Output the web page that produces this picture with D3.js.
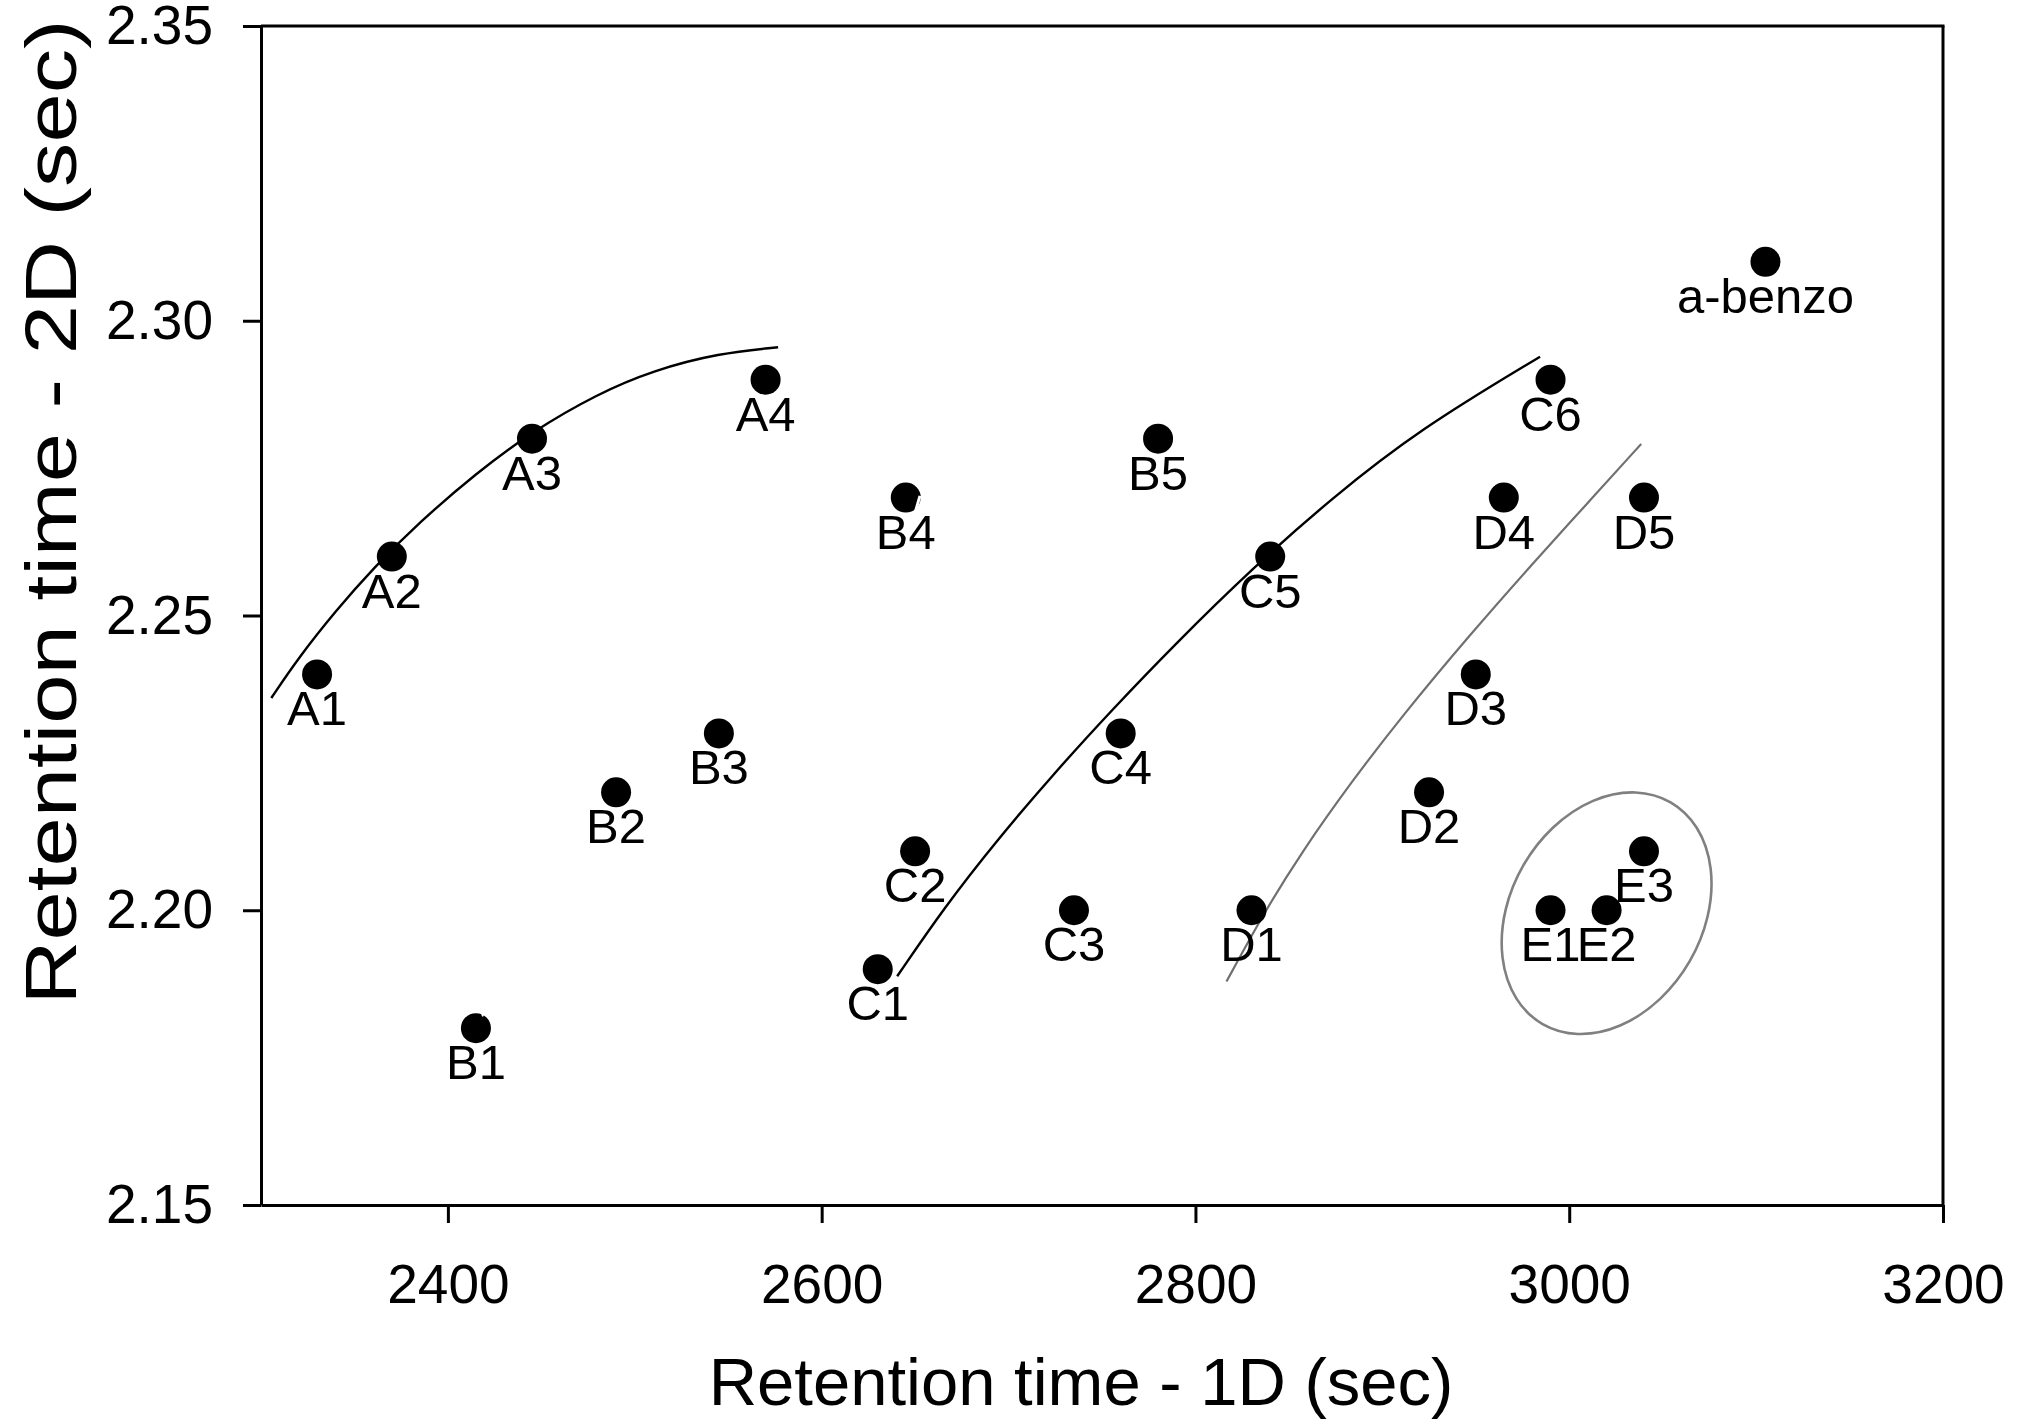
<!DOCTYPE html>
<html>
<head>
<meta charset="utf-8">
<script src="https://cdn.jsdelivr.net/npm/d3@7"></script>
<style>
  html, body { margin: 0; padding: 0; background: #fff; }
  svg { display: block; font-family: "Liberation Sans", Arial, sans-serif; }
</style>
</head>
<body>
<svg id="chart" width="2027" height="1419"></svg>
<script>
// ---- data ----
const pointLabels = ["A1","A2","A3","A4","B1","B2","B3","B4","B5","C1","C2","C3","C4","C5","C6","D1","D2","D3","D4","D5","E1","E2","E3","a-benzo"];
const rt1D = [2330,2370,2445,2570,2415,2490,2545,2645,2780,2630,2650,2735,2760,2840,2990,2830,2925,2950,2965,3040,2990,3020,3040,3105];
const rt2D = [2.24,2.26,2.28,2.29,2.18,2.22,2.23,2.27,2.28,2.19,2.21,2.20,2.23,2.26,2.29,2.20,2.22,2.24,2.27,2.27,2.20,2.20,2.21,2.31];

const xTicks = [2400,2600,2800,3000,3200];
const yTicks = [2.15,2.20,2.25,2.30,2.35];

// trend curves (sampled along the drawn lines)
const curveA_x = [2305.5,2320,2340,2360,2385,2415,2445,2480,2510,2545,2576.7];
const curveA_y = [2.2360,2.2428,2.2508,2.2580,2.2659,2.2741,2.2812,2.2876,2.2916,2.2945,2.2955];
const curveC_x = [2640.4,2665.5,2693.0,2726.5,2755.1,2788.6,2831.5,2872.2,2919.9,2984.4];
const curveC_y = [2.1888,2.2004,2.2116,2.2240,2.2339,2.2450,2.2583,2.2697,2.2816,2.2939];
const curveD_x = [2816.6,2837.1,2856.7,2883.5,2910.2,2945.9,2981.5,3008.2,3038.5];
const curveD_y = [2.1879,2.1998,2.2098,2.2218,2.2328,2.2464,2.2592,2.2685,2.2791];

// cluster ellipse around E1-E3 (centre in data units)
const ellipseCenter = [3020, 2.1995];
// white stray strokes over B4 and B1
const strayB4_x = [2631, 2652.6];
const strayB4_y = [2.2466, 2.2703];
const strayB1_x = [2417.8, 2418.8];
const strayB1_y = [2.1830, 2.1820];

// ---- layout ----
const mLeft = 261, mRight = 1943, mTop = 26, mBottom = 1205;
const svg = d3.select("#chart");

const x = d3.scaleLinear().domain([2300, 3200]).range([mLeft, mRight]);
const y = d3.scaleLinear().domain([2.15, 2.35]).range([mBottom, mTop]);

// curves
const line = d3.line().x(d => x(d[0])).y(d => y(d[1])).curve(d3.curveBasis);
const zipPts = (xs, ys) => xs.map((v, i) => [v, ys[i]]);

svg.append("path").datum(zipPts(curveA_x, curveA_y))
  .attr("d", line).attr("fill", "none").attr("stroke", "#000").attr("stroke-width", 2.4);
svg.append("path").datum(zipPts(curveC_x, curveC_y))
  .attr("d", line).attr("fill", "none").attr("stroke", "#000").attr("stroke-width", 2.4);
svg.append("path").datum(zipPts(curveD_x, curveD_y))
  .attr("d", line).attr("fill", "none").attr("stroke", "#707070").attr("stroke-width", 2.2);

// ellipse
svg.append("ellipse")
  .attr("cx", 0).attr("cy", 0).attr("rx", 96).attr("ry", 128)
  .attr("transform", `translate(${x(ellipseCenter[0])},${y(ellipseCenter[1])}) rotate(30)`)
  .attr("fill", "none").attr("stroke", "#808080").attr("stroke-width", 2.6);

// points
const pts = pointLabels.map((l, i) => ({ label: l, x: rt1D[i], y: rt2D[i] }));
svg.append("g").selectAll("circle").data(pts).join("circle")
  .attr("cx", d => x(d.x)).attr("cy", d => y(d.y)).attr("r", 15).attr("fill", "#000");

svg.append("g").selectAll("text").data(pts).join("text")
  .attr("x", d => x(d.x)).attr("y", d => y(d.y) + 51)
  .attr("text-anchor", "middle").attr("font-size", 49).attr("fill", "#000")
  .text(d => d.label);

// stray white strokes
svg.append("path").datum(zipPts(strayB4_x, strayB4_y))
  .attr("d", d3.line().x(d => x(d[0])).y(d => y(d[1])))
  .attr("stroke", "#fff").attr("stroke-width", 3).attr("fill", "none");
svg.append("path").datum(zipPts(strayB1_x, strayB1_y))
  .attr("d", d3.line().x(d => x(d[0])).y(d => y(d[1])))
  .attr("stroke", "#fff").attr("stroke-width", 2).attr("fill", "none");

// axes
const xAxis = svg.append("g").attr("transform", `translate(0,${mBottom})`)
  .call(d3.axisBottom(x).tickValues(xTicks).tickSize(18).tickSizeOuter(0).tickPadding(41).tickFormat(d3.format("d")));
const yAxis = svg.append("g").attr("transform", `translate(${mLeft},0)`)
  .call(d3.axisLeft(y).tickValues(yTicks).tickSize(18).tickSizeOuter(0).tickPadding(30).tickFormat(d3.format(".2f")));

[xAxis, yAxis].forEach(g => {
  g.select(".domain").attr("stroke", "#000").attr("stroke-width", 3);
  g.selectAll(".tick line").attr("stroke", "#000").attr("stroke-width", 3);
  g.selectAll(".tick text").attr("font-size", 55).attr("fill", "#000")
    .attr("font-family", "'Liberation Sans', Arial, sans-serif");
});
yAxis.selectAll(".tick text").attr("dy", "0.32em");

// frame top and right
svg.append("line").attr("x1", mLeft).attr("x2", mRight + 1.5).attr("y1", mTop).attr("y2", mTop)
  .attr("stroke", "#000").attr("stroke-width", 3);
svg.append("line").attr("x1", mRight).attr("x2", mRight).attr("y1", mTop).attr("y2", mBottom)
  .attr("stroke", "#000").attr("stroke-width", 3);

// axis titles
svg.append("text").attr("x", 1081).attr("y", 1405).attr("text-anchor", "middle")
  .attr("font-size", 67).attr("fill", "#000").text("Retention time - 1D (sec)");
svg.append("text").attr("transform", "translate(76,512) rotate(-90)").attr("text-anchor", "middle")
  .attr("font-size", 72).attr("fill", "#000")
  .attr("textLength", 985).attr("lengthAdjust", "spacingAndGlyphs")
  .text("Retention time - 2D (sec)");
</script>
</body>
</html>
